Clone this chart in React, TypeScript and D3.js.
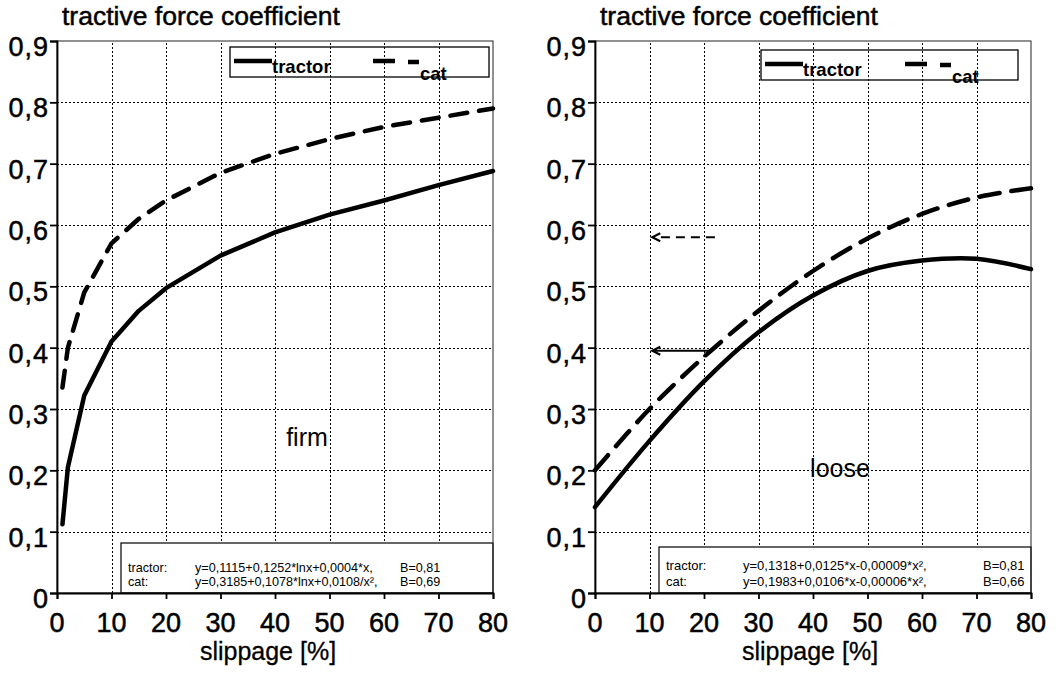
import React, { useEffect, useRef } from 'react';
import * as d3 from 'd3';

// axis ticks
const xTicks = [0, 10, 20, 30, 40, 50, 60, 70, 80];
const yTicks = [0, 0.1, 0.2, 0.3, 0.4, 0.5, 0.6, 0.7, 0.8, 0.9];
const yTickLabels = ['0', '0,1', '0,2', '0,3', '0,4', '0,5', '0,6', '0,7', '0,8', '0,9'];

// firm soil
const firmTractorX = [1, 2, 5, 10, 15, 20, 30, 40, 50, 60, 70, 80];
const firmTractorY = [0.112, 0.205, 0.322, 0.41, 0.46, 0.497, 0.55, 0.588, 0.617, 0.64, 0.665, 0.688];
const firmCatX = [1, 2, 5, 10, 15, 20, 30, 40, 50, 60, 70, 80];
const firmCatY = [0.335, 0.4, 0.49, 0.57, 0.61, 0.64, 0.685, 0.716, 0.74, 0.76, 0.775, 0.79];

// loose soil
const looseTractorX = [0, 10, 20, 30, 40, 50, 60, 70, 80];
const looseTractorY = [0.14, 0.248, 0.345, 0.425, 0.485, 0.525, 0.542, 0.545, 0.528];
const looseCatX = [0, 10, 20, 30, 40, 50, 60, 70, 80];
const looseCatY = [0.2, 0.3, 0.385, 0.46, 0.525, 0.578, 0.618, 0.645, 0.66];

// arrows on the loose panel: from slip, to slip, level
const looseArrowFrom = [22, 21];
const looseArrowTo = [10.5, 10.5];
const looseArrowLevel = [0.58, 0.395];

const firmEquations = [
  ['tractor:', 'y=0,1115+0,1252*lnx+0,0004*x,', 'B=0,81'],
  ['cat:', 'y=0,3185+0,1078*lnx+0,0108/x\u00B2,', 'B=0,69'],
];
const looseEquations = [
  ['tractor:', 'y=0,1318+0,0125*x-0,00009*x\u00B2,', 'B=0,81'],
  ['cat:', 'y=0,1983+0,0106*x-0,00006*x\u00B2,', 'B=0,66'],
];

const FONT = "'Liberation Sans', Arial, Helvetica, sans-serif";

type Panel = {
  x0: number; x1: number;
  tractorX: number[]; tractorY: number[];
  catX: number[]; catY: number[];
  curve: d3.CurveFactory;
  catDash: string;
  soil: string; soilX: number; soilY: number;
  legend: { x: number; y: number; w: number; h: number; catDx: number };
  eq: { x: number; y: number; rows: number[]; c1: number; c2: number; size: number; lines: string[][] };
  xLabelX: number;
};

const panels: Panel[] = [
  {
    x0: 57, x1: 493,
    tractorX: firmTractorX, tractorY: firmTractorY,
    catX: firmCatX, catY: firmCatY,
    curve: d3.curveLinear,
    catDash: '17,12',
    soil: 'firm', soilX: 307, soilY: 446,
    legend: { x: 230, y: 47, w: 259, h: 30, catDx: 143 },
    eq: { x: 121, y: 543, rows: [572, 586], c1: 195, c2: 400, size: 12.6, lines: firmEquations },
    xLabelX: 268,
  },
  {
    x0: 595, x1: 1031,
    tractorX: looseTractorX, tractorY: looseTractorY,
    catX: looseCatX, catY: looseCatY,
    curve: d3.curveCatmullRom,
    catDash: '20,12',
    soil: 'loose', soilX: 840, soilY: 477,
    legend: { x: 761, y: 50, w: 257, h: 30, catDx: 144 },
    eq: { x: 659, y: 547, rows: [570, 586], c1: 743, c2: 983, size: 13, lines: looseEquations },
    xLabelX: 810,
  },
];

function drawPanel(svg: d3.Selection<SVGSVGElement, unknown, null, undefined>, p: Panel, i: number) {
  const x = d3.scaleLinear().domain([0, 80]).range([p.x0, p.x1]);
  const y = d3.scaleLinear().domain([0, 0.9]).range([593, 41]);
  const g = svg.append('g');

  // title
  g.append('text')
    .attr('x', p.x0 + 5).attr('y', 25)
    .attr('font-family', FONT).attr('font-size', 26.5)
    .attr('stroke', '#000').attr('stroke-width', 0.5)
    .text('tractive force coefficient');

  // dotted grid
  g.selectAll('line.vgrid').data(xTicks.slice(1, -1)).enter().append('line')
    .attr('class', 'vgrid')
    .attr('x1', d => Math.round(x(d)) + 0.5).attr('x2', d => Math.round(x(d)) + 0.5)
    .attr('y1', y(0)).attr('y2', y(0.9))
    .attr('stroke', '#000').attr('stroke-width', 1).attr('stroke-dasharray', '2,2');
  g.selectAll('line.hgrid').data(yTicks.slice(1, -1)).enter().append('line')
    .attr('class', 'hgrid')
    .attr('x1', x(0)).attr('x2', x(80))
    .attr('y1', d => Math.round(y(d)) + 0.5).attr('y2', d => Math.round(y(d)) + 0.5)
    .attr('stroke', '#000').attr('stroke-width', 1).attr('stroke-dasharray', '2,2');

  // equation box (white, hides grid)
  g.append('rect')
    .attr('x', p.eq.x).attr('y', p.eq.y)
    .attr('width', x(80) - p.eq.x).attr('height', y(0) - p.eq.y)
    .attr('fill', '#fff').attr('stroke', '#000').attr('stroke-width', 1.2);
  p.eq.lines.forEach((row, r) => {
    const t = g.append('g').attr('font-family', FONT).attr('font-size', p.eq.size);
    t.append('text').attr('x', p.eq.x + 7).attr('y', p.eq.rows[r]).text(row[0]);
    t.append('text').attr('x', p.eq.c1).attr('y', p.eq.rows[r]).text(row[1]);
    t.append('text').attr('x', p.eq.c2).attr('y', p.eq.rows[r]).text(row[2]);
  });

  // frame
  g.append('rect')
    .attr('x', x(0)).attr('y', y(0.9))
    .attr('width', x(80) - x(0)).attr('height', y(0) - y(0.9))
    .attr('fill', 'none').attr('stroke', '#222').attr('stroke-width', 1);

  // series
  const line = d3.line<[number, number]>()
    .x(d => x(d[0])).y(d => y(d[1])).curve(p.curve);
  g.append('path')
    .attr('d', line(p.tractorX.map((v, k) => [v, p.tractorY[k]]) as [number, number][]))
    .attr('fill', 'none').attr('stroke', '#000').attr('stroke-width', 4.5)
    .attr('stroke-linecap', 'round').attr('stroke-linejoin', 'round');
  g.append('path')
    .attr('d', line(p.catX.map((v, k) => [v, p.catY[k]]) as [number, number][]))
    .attr('fill', 'none').attr('stroke', '#000').attr('stroke-width', 4.5)
    .attr('stroke-dasharray', p.catDash).attr('stroke-linecap', 'round');

  // axes
  const xAxis = d3.axisBottom(x).tickValues(xTicks).tickSize(6).tickFormat(() => '');
  const ax = g.append('g').attr('transform', `translate(0,${y(0)})`).call(xAxis);
  ax.selectAll('path,line').attr('stroke', '#000').attr('stroke-width', 1.8);
  const yAxis = d3.axisLeft(y).tickValues(yTicks).tickSize(7).tickFormat(() => '');
  const ay = g.append('g').attr('transform', `translate(${x(0)},0)`).call(yAxis);
  ay.selectAll('path,line').attr('stroke', '#000').attr('stroke-width', 1.8);

  g.selectAll('text.xlab').data(xTicks).enter().append('text')
    .attr('class', 'xlab')
    .attr('x', d => x(d)).attr('y', 632)
    .attr('text-anchor', 'middle')
    .attr('font-family', FONT).attr('font-size', 27)
    .attr('stroke', '#000').attr('stroke-width', 0.5)
    .text(d => String(d));
  g.selectAll('text.ylab').data(yTicks).enter().append('text')
    .attr('class', 'ylab')
    .attr('x', x(0) - 8).attr('y', d => y(d) + 15)
    .attr('text-anchor', 'end')
    .attr('font-family', FONT).attr('font-size', 27).attr('letter-spacing', 1)
    .attr('stroke', '#000').attr('stroke-width', 0.5)
    .text((d, k) => yTickLabels[k]);

  g.append('text')
    .attr('x', p.xLabelX).attr('y', 660).attr('text-anchor', 'middle')
    .attr('font-family', FONT).attr('font-size', 25)
    .attr('stroke', '#000').attr('stroke-width', 0.3)
    .text('slippage [%]');

  g.append('text')
    .attr('x', p.soilX).attr('y', p.soilY).attr('text-anchor', 'middle')
    .attr('font-family', FONT).attr('font-size', 25)
    .text(p.soil);

  // legend
  const L = p.legend;
  const lg = g.append('g');
  lg.append('rect').attr('x', L.x).attr('y', L.y).attr('width', L.w).attr('height', L.h)
    .attr('fill', 'none').attr('stroke', '#000').attr('stroke-width', 1.3);
  lg.append('line').attr('x1', L.x + 4).attr('x2', L.x + 42)
    .attr('y1', L.y + 14).attr('y2', L.y + 14)
    .attr('stroke', '#000').attr('stroke-width', 4.5);
  lg.append('text').attr('x', L.x + 42).attr('y', L.y + 26)
    .attr('font-family', FONT).attr('font-size', 18.5).attr('font-weight', 'bold')
    .text('tractor');
  lg.append('line').attr('x1', L.x + L.catDx).attr('x2', L.x + L.catDx + 22)
    .attr('y1', L.y + 14).attr('y2', L.y + 14)
    .attr('stroke', '#000').attr('stroke-width', 4.5);
  lg.append('line').attr('x1', L.x + L.catDx + 35).attr('x2', L.x + L.catDx + 46)
    .attr('y1', L.y + 15).attr('y2', L.y + 15)
    .attr('stroke', '#000').attr('stroke-width', 4.5);
  lg.append('text').attr('x', L.x + L.catDx + 47).attr('y', L.y + 33)
    .attr('font-family', FONT).attr('font-size', 18.5).attr('font-weight', 'bold')
    .text('cat');

  // arrows (loose panel only)
  if (i === 1) {
    looseArrowFrom.forEach((from, k) => {
      const yy = y(looseArrowLevel[k]);
      const xs = x(from), xe = x(looseArrowTo[k]);
      g.append('line').attr('x1', xs).attr('x2', xe + 2).attr('y1', yy).attr('y2', yy)
        .attr('stroke', '#000').attr('stroke-width', 2)
        .attr('stroke-dasharray', k === 0 ? '9,6' : null);
      g.append('path')
        .attr('d', `M${xe + 8},${yy - 4}L${xe},${yy}L${xe + 8},${yy + 4}`)
        .attr('fill', 'none').attr('stroke', '#000').attr('stroke-width', 2);
      if (k === 1) {
        g.append('line').attr('x1', xs).attr('y1', yy).attr('x2', xs - 6).attr('y2', yy + 6)
          .attr('stroke', '#000').attr('stroke-width', 2);
      }
    });
  }
}

export default function App() {
  const ref = useRef<SVGSVGElement>(null);

  useEffect(() => {
    const svg = d3.select(ref.current as SVGSVGElement);
    svg.selectAll('*').remove();
    svg.append('rect').attr('width', 1064).attr('height', 676).attr('fill', '#fff');
    panels.forEach((p, i) => drawPanel(svg, p, i));
  }, []);

  return (
    <svg ref={ref} width={1064} height={676}
      style={{ position: 'absolute', left: 0, top: 0, display: 'block' }} />
  );
}
